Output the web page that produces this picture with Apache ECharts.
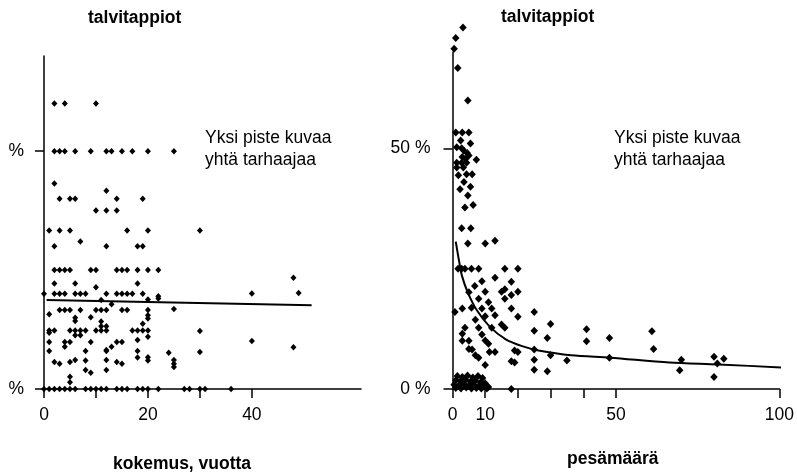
<!DOCTYPE html>
<html>
<head>
<meta charset="utf-8">
<script src="https://cdn.jsdelivr.net/npm/echarts@6/dist/echarts.min.js"></script>
<style>
  html, body { margin: 0; padding: 0; background: #fff; }
  #chart { width: 797px; height: 475px; }
</style>
</head>
<body>
<div id="chart"></div>
<script>
// vasen: kokemus (vuotta) vs talvitappiot (%)
const leftPoints = [
  [2, 60], [4, 60], [10, 60],
  [2, 50], [3, 50], [4, 50], [6, 50], [9, 50], [12, 50], [13, 50], [15, 50], [17, 50], [20, 50], [25, 50],
  [2, 43.2], [12, 41.7],
  [3, 40], [5, 40], [6, 40], [14, 40], [19, 40],
  [10, 37.5], [12, 37.5], [14, 37.5],
  [1, 33.3], [3, 33.3], [5, 33.3], [16, 33.3], [20, 33.3], [30, 33.3],
  [2, 30], [7, 31], [12, 30], [18, 30], [19, 30],
  [2, 25], [3, 25], [4, 25], [5, 25], [9, 25], [10, 25], [14, 25], [15, 25], [16, 25], [18, 25], [20, 25], [22, 25],
  [2, 22.2], [6, 22.2], [18, 22.2], [10, 21.4],
  [0, 20], [2, 20], [3, 20], [4, 20], [6, 20], [7, 20], [8, 20], [12, 20], [14, 20], [15, 20], [16, 20], [17, 20], [19, 20],
  [22, 19.5], [22, 19], [20, 18.8], [11, 18.7], [13, 17.8], [40, 20.1], [48, 23.4], [49, 20.2],
  [1, 15.7], [3, 16.6], [4, 16.6], [5, 16.6], [7, 16.6], [10, 16.6], [11, 16.6], [12, 16.6], [15, 16.6], [16, 16.6],
  [20, 16.6], [20, 15.5], [25, 16.8],
  [6, 15], [6, 14.3], [9, 15.1], [11, 14.2], [11, 13.2], [12, 13.2], [19, 13.7], [20, 14.8],
  [1, 12.3], [2, 12.3], [5, 12.3], [6, 12.3], [7, 12.3], [8, 12.3], [10, 12.3], [11, 12.3], [12, 12.3],
  [17, 12.3], [18, 12.3], [19, 12.3], [20, 12.3], [30, 12.2],
  [1, 11.8], [6, 11.3], [7, 11.3], [20, 11], [18, 10.3],
  [1, 9.9], [4, 9.9], [5, 9.9], [9, 9.9], [14, 9.9], [15, 9.9], [40, 10.1],
  [4, 8.9], [13, 8.9], [12, 8.2], [48, 8.8],
  [1, 8], [8, 8], [12, 8], [18, 8], [24, 7.6], [30, 7.8],
  [2, 5.7], [3, 5.3], [5, 5.7], [6, 6.1], [8, 6], [12, 6.1], [14, 5.7], [15, 5.3], [18, 6.6], [20, 6.7], [20, 6],
  [25, 6.1], [25, 5.3], [25, 4.6],
  [8, 4], [9, 3.4], [12, 4], [5, 2.6], [5, 1.4],
  [0, 0], [1, 0], [2, 0], [3, 0], [4, 0], [5, 0], [6, 0], [8, 0], [9, 0], [10, 0], [11, 0], [12, 0],
  [14, 0], [15, 0], [16, 0], [18, 0], [19, 0], [20, 0], [22, 0], [27, 0], [28, 0], [30, 0], [31, 0], [36, 0]
];
const leftTrend = [[0.5, 18.7], [51.5, 17.6]];
const leftXTicks = [0, 10, 20, 30, 40];
const leftXLabels = [0, 20, 40];

// oikea: pesämäärä vs talvitappiot (%)
const rightPoints = [
  [3.2, 75.1], [1, 72.9], [0.5, 70.7], [1.6, 66.7], [4.7, 59.9],
  [1, 53.3], [3, 53.3], [5, 53.3], [2.5, 51.6], [5.5, 51], [1.3, 50.2], [2.8, 50], [3.5, 49.5], [4.5, 49],
  [3, 48.2], [4, 47.8], [5, 48.5], [7.3, 47.6], [1.3, 47], [2.8, 47], [4.3, 47], [1.3, 46], [3.3, 46],
  [1.8, 44.4], [4.3, 44.6], [6, 44.6], [3.5, 43], [5.5, 42], [2.3, 41.5], [4.7, 40.2],
  [3.8, 37.7], [6.3, 38.2], [2.8, 33.4], [5.6, 33.4], [4.7, 30.2], [10, 30.2], [13, 30.8],
  [1.7, 25], [2.8, 25], [3.8, 25], [5.8, 25], [8, 25], [16, 25], [20, 25],
  [9, 22.4], [13, 23.1], [18, 22.3], [6.8, 21.4], [10, 20.2], [16, 20.7], [20, 20.2], [5, 20.1], [15, 20.2],
  [8, 18.75], [11, 18], [16, 18.75], [18, 19.5],
  [0.75, 16], [3, 16.7], [5.8, 16.9], [9, 16.7], [12, 16.7], [18, 16.7], [25, 16],
  [7, 14.4], [10, 15.1], [13, 15.3], [20, 15], [3.8, 12.7], [3, 11.5], [8, 12.7], [12, 12.7], [15, 13.4],
  [16, 12.7], [9, 11.3], [25, 12.1], [30, 13.5], [3, 10], [5, 10], [10, 10.1], [11, 9.4], [29, 10.6],
  [5, 8.3], [6, 8.2], [11.3, 7.7], [13, 7.7], [19, 8], [20, 7.7], [25, 8.2], [30, 7], [7, 7], [8, 6.5],
  [10, 5], [18, 5.75], [19, 5.5], [25, 6.1], [25, 4], [29, 3.7], [35, 5.9], [18, 0],
  [41, 12.4], [41, 9.9], [48, 10.6], [48, 6.5], [61, 12], [61.5, 8.3], [70, 6.1], [69.5, 3.9],
  [80, 6.7], [81, 5.3], [83, 6.3], [80, 2.5],
  [1.5, 2.7], [3, 2.5], [4.6, 2.8], [6.2, 2.4], [7.8, 2.7], [9.2, 2.3],
  [1, 1.8], [2.4, 1.6], [4, 1.9], [5.5, 1.5], [7, 1.7], [8.6, 1.4], [10, 1.2],
  [0.5, 0.9], [2, 0.8], [3.6, 1], [5, 0.7], [6.5, 0.9], [8, 0.6], [9.5, 0.5],
  [1, 0.2], [2.6, 0.1], [4.2, 0.3], [5.8, 0.1], [7.3, 0.2], [8.8, 0.1], [10.5, 0.1], [11, 0.4]
];
const rightCurve = [
  [1, 30.6], [2, 26.6], [2.9, 23.5], [4.7, 20], [7.3, 16.5], [11.3, 13], [16.3, 10.3], [21.3, 8.9],
  [26.3, 8], [36.3, 7], [48.3, 6.5], [66.3, 5.5], [81.3, 5.1], [103, 4.4]
];
const rightXTicks = [0, 10, 20, 30, 40, 50, 100];
const rightXLabels = [0, 10, 50, 100];

const yTicks = [0, 50];
const leftYLabels = { 0: '%', 50: '%' };
const rightYLabels = { 0: '0 %', 50: '50 %' };

const FONT = '"Liberation Sans", Arial, sans-serif';
const FS = 17.5;
const black = '#000';

function xAxisOf(gridIndex, max, ticks, labels) {
  return {
    type: 'value', gridIndex, min: 0, max,
    axisLine: { lineStyle: { color: black, width: 1.5 } },
    axisTick: { customValues: ticks, length: 9, lineStyle: { color: black, width: 1.5 } },
    axisLabel: { customValues: labels, color: black, fontSize: FS, fontFamily: FONT, margin: 17 },
    splitLine: { show: false }
  };
}

function yAxisOf(gridIndex, labels, margin) {
  return {
    type: 'value', gridIndex, min: 0, max: 70,
    axisLine: { show: true, lineStyle: { color: black, width: 1.5 } },
    axisTick: { show: true, customValues: yTicks, length: 9, lineStyle: { color: black, width: 1.5 } },
    axisLabel: {
      customValues: yTicks, color: black, fontSize: FS, fontFamily: FONT, margin,
      formatter: v => labels[v]
    },
    splitLine: { show: false }
  };
}

function textEl(text, x, y, bold) {
  return {
    type: 'text', left: x, top: y,
    style: {
      text, fill: black, font: (bold ? 'bold ' : '') + FS + 'px ' + FONT, lineHeight: 22
    }
  };
}

const chart = echarts.init(document.getElementById('chart'), null, { renderer: 'canvas' });

chart.setOption({
  animation: false,
  backgroundColor: '#fff',
  grid: [
    { left: 44, top: 56, width: 317, height: 333 },
    { left: 452.5, top: 52, width: 333, height: 337 }
  ],
  xAxis: [
    xAxisOf(0, 61, leftXTicks, leftXLabels),
    xAxisOf(1, 100, rightXTicks, rightXLabels)
  ],
  yAxis: [
    yAxisOf(0, leftYLabels, 20),
    yAxisOf(1, rightYLabels, 22)
  ],
  series: [
    {
      type: 'scatter', xAxisIndex: 0, yAxisIndex: 0, data: leftPoints,
      symbol: 'diamond', symbolSize: [6, 6.5], itemStyle: { color: black, opacity: 1 }, clip: false
    },
    {
      type: 'line', xAxisIndex: 0, yAxisIndex: 0, data: leftTrend,
      showSymbol: false, lineStyle: { color: black, width: 2 }
    },
    {
      type: 'scatter', xAxisIndex: 1, yAxisIndex: 1, data: rightPoints,
      symbol: 'diamond', symbolSize: [7.5, 8], itemStyle: { color: black, opacity: 1 }, clip: false
    },
    {
      type: 'line', xAxisIndex: 1, yAxisIndex: 1, data: rightCurve,
      showSymbol: false, smooth: 0.3, clip: false, lineStyle: { color: black, width: 2 }
    }
  ],
  graphic: [
    textEl('talvitappiot', 88, 7, true),
    textEl('talvitappiot', 501, 6, true),
    textEl('Yksi piste kuvaa\nyhtä tarhaajaa', 205, 127, false),
    textEl('Yksi piste kuvaa\nyhtä tarhaajaa', 614, 127, false),
    textEl('kokemus, vuotta', 113, 453, true),
    textEl('pesämäärä', 567, 448, true)
  ]
});
</script>
</body>
</html>
